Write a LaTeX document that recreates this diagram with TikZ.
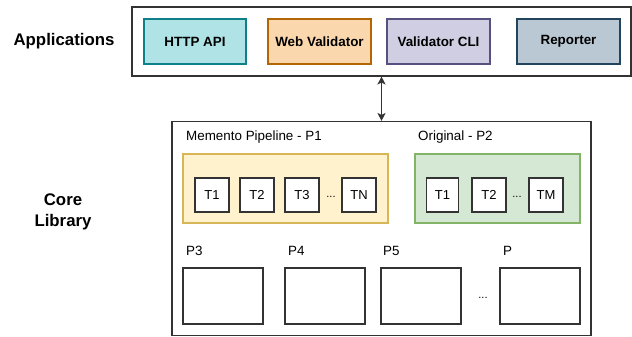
\documentclass[tikz,border=0pt]{standalone}
\usepackage{fontspec}
\setmainfont{Liberation Sans}
\usetikzlibrary{arrows.meta}
\definecolor{httpf}{HTML}{B0E3E6}\definecolor{httpd}{HTML}{0E8088}
\definecolor{webf}{HTML}{FAD7AC}\definecolor{webd}{HTML}{B46504}
\definecolor{clif}{HTML}{D0CEE2}\definecolor{clid}{HTML}{56517E}
\definecolor{repf}{HTML}{BAC8D3}\definecolor{repd}{HTML}{23445D}
\definecolor{yelf}{HTML}{FFF2CC}\definecolor{yeld}{HTML}{D6B656}
\definecolor{grnf}{HTML}{D5E8D4}\definecolor{grnd}{HTML}{82B366}
\definecolor{edge}{HTML}{333333}
\begin{document}
\begin{tikzpicture}[x=1pt,y=-1pt,
  box/.style={draw=edge,line width=1.05pt,rectangle,inner sep=0pt,fill=white},
  app/.style={rectangle,line width=1.05pt,inner sep=0pt,minimum width=103pt,minimum height=45pt,
     font=\fontsize{13.4}{15}\selectfont\bfseries},
  tbox/.style={box,minimum width=34pt,minimum height=34pt,font=\fontsize{13}{15}\selectfont},
  pbox/.style={box,minimum width=80pt,minimum height=56pt},
  lbl/.style={inner sep=0pt,anchor=west,font=\fontsize{13.4}{15}\selectfont},
  side/.style={inner sep=0pt,align=center,font=\fontsize{16.8}{20}\selectfont\bfseries},
  dots/.style={inner sep=0pt,font=\fontsize{11}{12}\selectfont},
  tip/.tip={Stealth[length=8pt,width=8pt,inset=2pt]}]
\useasboundingbox (0,0) rectangle (632,337);
% Applications
\node[side] (applbl) at (64,41) {Applications};
\node[box,minimum width=499pt,minimum height=69pt] (apps) at (381.5,41.5) {};
\node[app,draw=httpd,fill=httpf,minimum width=102pt] (http) at (195,41.5) {HTTP API};
\node[app,draw=webd,fill=webf] (web) at (319.5,41.5) {Web Validator};
\node[app,draw=clid,fill=clif] (cli) at (438.5,41.5) {Validator CLI};
\node[app,draw=repd,fill=repf] (rep) at (568.5,41.5) {Reporter};
% Core
\node[side] (corelbl) at (63,212) {Core\\[1pt]Library};
\node[box,minimum width=419pt,minimum height=214pt] (core) at (381.5,228.5) {};
\draw[edge,line width=1.05pt,tip-tip] (apps) -- (core);
% P1
\node[lbl] (p1lbl) at (186,137) {Memento Pipeline - P1};
\node[rectangle,draw=yeld,fill=yelf,line width=1.05pt,minimum width=205pt,minimum height=69pt] (p1) at (285.5,188.5) {};
\node[tbox] (a1) at (212,195) {T1};
\node[tbox] (a2) at (257,195) {T2};
\node[tbox] (a3) at (302,195) {T3};
\node[dots] (adots) at (331,197) {...};
\node[tbox] (an) at (359,195) {TN};
% P2
\node[lbl] (p2lbl) at (418,137) {Original - P2};
\node[rectangle,draw=grnd,fill=grnf,line width=1.05pt,minimum width=165pt,minimum height=69pt] (p2) at (497.5,188.5) {};
\node[tbox,minimum width=32pt] (b1) at (442.5,195) {T1};
\node[tbox] (b2) at (489,195) {T2};
\node[dots] (bdots) at (517,197) {...};
\node[tbox] (bm) at (546,195) {TM};
% Others
\node[lbl] (p3lbl) at (186,251) {P3};
\node[lbl] (p4lbl) at (288,251) {P4};
\node[lbl] (p5lbl) at (383,251) {P5};
\node[lbl] (pnlbl) at (503,251) {P};
\node[pbox] (p3) at (223,296) {};
\node[pbox] (p4) at (325,296) {};
\node[pbox] (p5) at (421,296) {};
\node[dots] (pdots) at (483,298) {...};
\node[pbox] (pn) at (540,296) {};
\end{tikzpicture}
\end{document}
